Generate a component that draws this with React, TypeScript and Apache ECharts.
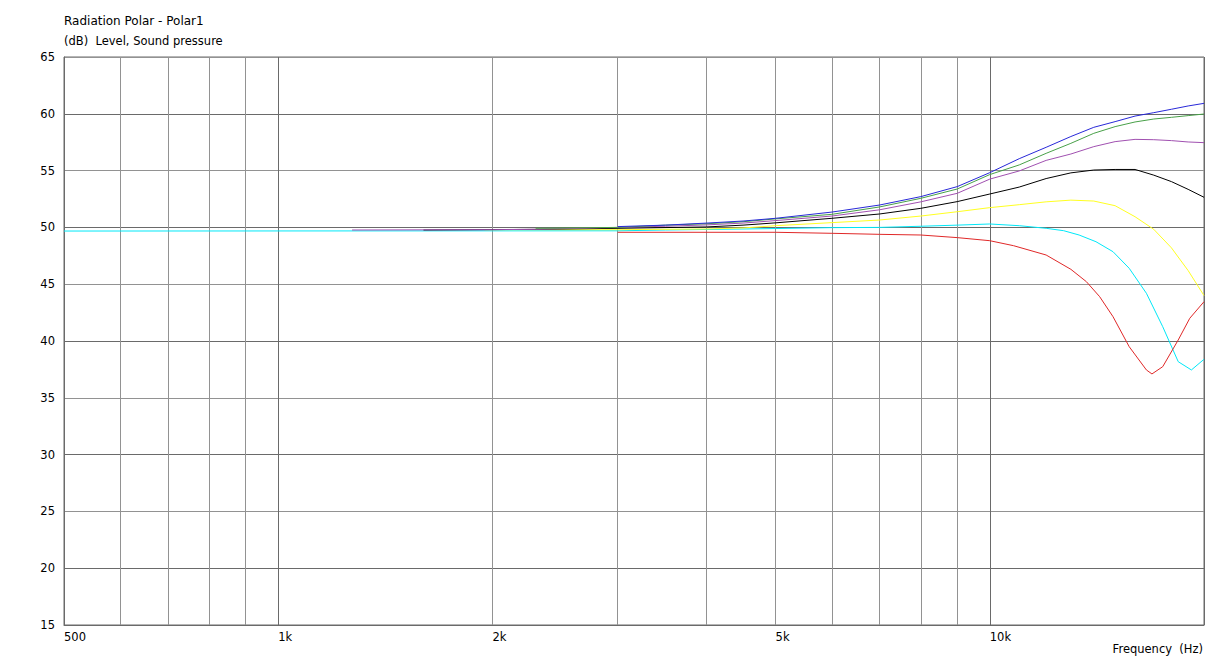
import React, { useEffect, useRef } from "react";
import * as echarts from "echarts";

const FREQ_TICKS = [500, 600, 700, 800, 900, 1000, 2000, 3000, 4000, 5000, 6000, 7000, 8000, 9000, 10000, 20000];
const FREQ_LABELS = [500, 1000, 2000, 5000, 10000];

const blueFreq = [3000, 3500, 4000, 4500, 5000, 6000, 7000, 8000, 9000, 10000, 11000, 12000, 13000, 14000, 15000, 16000, 17000, 18000, 19000, 20000];
const blueDb = [50.07, 50.2, 50.38, 50.56, 50.8, 51.35, 51.97, 52.71, 53.59, 54.82, 56.05, 57.05, 58.0, 58.81, 59.31, 59.8, 60.1, 60.4, 60.69, 60.92];

const greenFreq = [2300, 3000, 3500, 4000, 4500, 5000, 6000, 7000, 8000, 9000, 10000, 11000, 12000, 13000, 14000, 15000, 16000, 17000, 18000, 19000, 20000];
const greenDb = [49.92, 50.0, 50.2, 50.32, 50.5, 50.75, 51.15, 51.8, 52.56, 53.38, 54.65, 55.5, 56.52, 57.4, 58.28, 58.87, 59.28, 59.54, 59.69, 59.84, 59.98];

const purpleFreq = [1270, 2000, 2300, 3000, 3500, 4000, 4500, 5000, 6000, 7000, 8000, 9000, 10000, 11000, 12000, 13000, 14000, 15000, 16000, 17000, 18000, 19000, 20000];
const purpleDb = [49.77, 49.8, 49.83, 50.0, 50.1, 50.22, 50.38, 50.6, 51.0, 51.55, 52.25, 53.0, 54.25, 54.97, 55.9, 56.46, 57.11, 57.55, 57.75, 57.72, 57.64, 57.52, 57.46];

const blackFreq = [1600, 2300, 3000, 4000, 4500, 5000, 6000, 7000, 8000, 9000, 10000, 11000, 12000, 13000, 14000, 15000, 16000, 17000, 18000, 19000, 20000];
const blackDb = [49.77, 49.83, 49.92, 50.04, 50.2, 50.4, 50.8, 51.18, 51.68, 52.27, 52.94, 53.55, 54.3, 54.8, 55.05, 55.1, 55.1, 54.6, 54.03, 53.35, 52.65];

const yellowFreq = [1950, 3000, 4000, 4500, 5000, 6000, 7000, 8000, 9000, 10000, 11000, 12000, 13000, 14000, 15000, 16000, 17000, 18000, 19000, 20000];
const yellowDb = [49.8, 49.8, 49.86, 49.95, 50.15, 50.42, 50.65, 51.0, 51.38, 51.74, 52.0, 52.25, 52.4, 52.32, 51.91, 50.94, 49.83, 48.2, 46.2, 44.0];

const cyanFreq = [500, 3000, 3500, 4500, 5000, 6000, 7000, 8000, 9000, 10000, 11000, 12000, 12700, 13350, 14100, 14900, 15700, 16600, 17500, 18400, 19200, 20000];
const cyanDb = [49.68, 49.7, 49.77, 49.86, 49.9, 49.98, 50.0, 50.1, 50.2, 50.3, 50.15, 49.92, 49.71, 49.33, 48.74, 47.86, 46.4, 44.2, 41.26, 38.18, 37.45, 38.39];

const redFreq = [3000, 5000, 6000, 7000, 8000, 9000, 10000, 10800, 12000, 13000, 13670, 14270, 14900, 15700, 16600, 16900, 17500, 18400, 19100, 20000];
const redDb = [49.57, 49.57, 49.48, 49.39, 49.33, 49.1, 48.83, 48.39, 47.57, 46.31, 45.22, 43.9, 42.14, 39.5, 37.45, 37.1, 37.74, 40.09, 42.0, 43.46];

const SERIES = [
  { name: "cyan", freq: cyanFreq, db: cyanDb, color: "#00e8f8" },
  { name: "red", freq: redFreq, db: redDb, color: "#e02828" },
  { name: "yellow", freq: yellowFreq, db: yellowDb, color: "#ffff20" },
  { name: "black", freq: blackFreq, db: blackDb, color: "#000000" },
  { name: "purple", freq: purpleFreq, db: purpleDb, color: "#a050b0" },
  { name: "green", freq: greenFreq, db: greenDb, color: "#48a048" },
  { name: "blue", freq: blueFreq, db: blueDb, color: "#2828d8" },
];

const DARK = "#6a6a6a";
const LIGHT = "#929292";
const FONT = "DejaVu Sans";

export default function App() {
  const ref = useRef<HTMLDivElement>(null);
  useEffect(() => {
    if (!ref.current) return;
    const chart = echarts.init(ref.current, undefined, { renderer: "svg" });
    const xSplitColors = FREQ_TICKS.map((f) => (f === 1000 || f === 10000 || f === 500 || f === 20000 ? DARK : LIGHT));
    chart.setOption({
      animation: false,
      backgroundColor: "#ffffff",
      title: {
        left: 64,
        top: 15,
        padding: 0,
        text: "Radiation Polar - Polar1",
        subtext: "(dB)  Level, Sound pressure",
        itemGap: 8,
        textStyle: { fontFamily: FONT, fontSize: 12, fontWeight: "normal", color: "#000" },
        subtextStyle: { fontFamily: FONT, fontSize: 11.5, color: "#000" },
      },
      graphic: [
        {
          type: "text",
          right: 23,
          top: 643,
          style: { text: "Frequency  (Hz)", fontFamily: FONT, fontSize: 11.5, fill: "#000" },
        },
      ],
      grid: {
        left: 64,
        right: 22,
        top: 57,
        bottom: 35,
        show: true,
        borderColor: DARK,
        borderWidth: 1,
        backgroundColor: "transparent",
      },
      xAxis: {
        type: "log",
        logBase: 10,
        min: 500,
        max: 20000,
        axisLine: { show: true, lineStyle: { color: DARK } },
        axisTick: { show: false, customValues: FREQ_TICKS },
        axisLabel: {
          customValues: FREQ_LABELS,
          align: "left",
          margin: 6,
          fontFamily: FONT,
          fontSize: 11.5,
          color: "#000",
          formatter: (v: number) => (v >= 1000 ? `${Math.round(v / 1000)}k` : `${Math.round(v)}`),
        },
        splitLine: { show: true, lineStyle: { color: xSplitColors, width: 1 } },
      },
      yAxis: {
        type: "value",
        min: 15,
        max: 65,
        interval: 5,
        axisLine: { show: true, lineStyle: { color: DARK } },
        axisTick: { show: false },
        axisLabel: { margin: 9, fontFamily: FONT, fontSize: 11.5, color: "#000" },
        splitLine: { show: true, lineStyle: { color: [LIGHT, DARK], width: 1 } },
      },
      series: SERIES.map((s) => ({
        name: s.name,
        type: "line",
        showSymbol: false,
        symbol: "none",
        smooth: false,
        lineStyle: { color: s.color, width: 1 },
        itemStyle: { color: s.color },
        data: s.freq.map((f, i) => [f, s.db[i]]),
      })),
    });
    return () => chart.dispose();
  }, []);
  return (
    <div
      ref={ref}
      style={{ position: "fixed", left: 0, top: 0, width: 1226, height: 660, background: "#fff" }}
    />
  );
}
